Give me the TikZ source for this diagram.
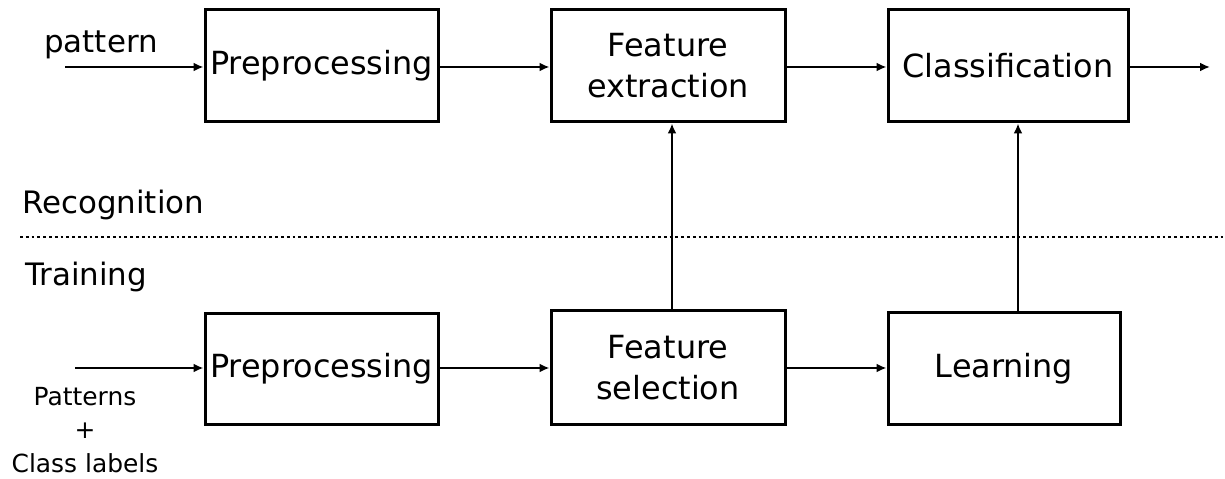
\documentclass[tikz,border=0pt]{standalone}
\usepackage{fontspec}
\setmainfont{DejaVu Sans}
\usetikzlibrary{arrows.meta}
\begin{document}
\begin{tikzpicture}[x=1bp,y=-1bp,
  blk/.style={draw, line width=3bp, minimum width=#1, align=center, inner sep=0pt,
    font=\fontsize{32}{41}\selectfont},
  conn/.style={line width=2.8bp, -{Latex[length=10bp,width=9bp]}},
  lbl/.style={font=\fontsize{31}{36}\selectfont, inner sep=0pt},
  sml/.style={font=\fontsize{25}{34}\selectfont, inner sep=0pt, align=center}]
\useasboundingbox (0,0) rectangle (1225,479);
\node[blk=233bp, minimum height=112bp] (pre1) at (321.5,66) {Preprocessing};
\node[blk=234bp, minimum height=112bp] (fext) at (668,66) {Feature\\extraction};
\node[blk=240bp, minimum height=112bp] (cls) at (1008,66) {Classification};
\node[blk=233bp, minimum height=110bp] (pre2) at (321.5,369) {Preprocessing};
\node[blk=234bp, minimum height=113bp] (fsel) at (668,367.5) {Feature\\selection};
\node[blk=232bp, minimum height=111bp] (learn) at (1004,368.5) {Learning};

\node[lbl] (pat) at (101,45) {pattern};
\node[lbl, anchor=west] (rec) at (22,205) {Recognition};
\node[lbl, anchor=west] (trn) at (25,277) {Training};
\node[sml] (pcl) at (85,430) {Patterns\\+\\Class labels};

\coordinate (in1) at (65,67);
\coordinate (out1) at (1210,67);
\coordinate (in2) at (75,368);
\coordinate (d1) at (20,237);
\coordinate (d2) at (1225,237);

\draw[conn] (in1) -- (in1 -| pre1.west);
\draw[conn] (pre1.east |- in1) -- (fext.west |- in1);
\draw[conn] (fext.east |- in1) -- (cls.west |- in1);
\draw[conn] (cls.east |- out1) -- (out1);
\draw[conn] (in2) -- (in2 -| pre2.west);
\draw[conn] (pre2.east |- in2) -- (fsel.west |- in2);
\draw[conn] (fsel.east |- in2) -- (learn.west |- in2);
\draw[conn] (672,0 |- fsel.north) -- (672,0 |- fext.south);
\draw[conn] (1018,0 |- learn.north) -- (1018,0 |- cls.south);
\draw[line width=2.8bp, dash pattern=on 2.8bp off 3bp] (d1) -- (d2);
\end{tikzpicture}
\end{document}
